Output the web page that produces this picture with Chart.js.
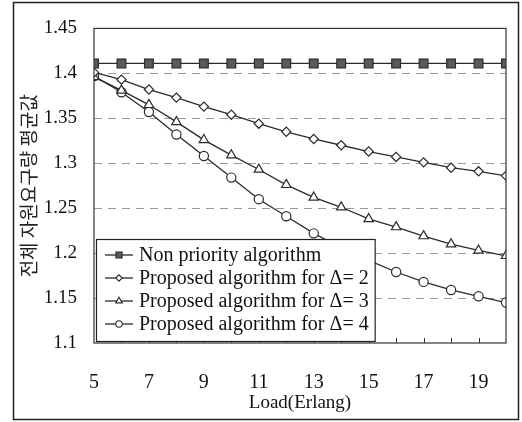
<!DOCTYPE html>
<html>
<head>
<meta charset="utf-8">
<script src="https://cdn.jsdelivr.net/npm/chart.js@4.4.0/dist/chart.umd.min.js"></script>
<style>
  body { margin: 0; background: #fff; }
  #wrap { width: 522px; height: 422px; }
</style>
</head>
<body>
<div id="wrap"><canvas id="mycanvas" width="522" height="422"></canvas></div>
<script>
// data
var loads = [5, 6, 7, 8, 9, 10, 11, 12, 13, 14, 15, 16, 17, 18, 19, 20];
var nonPriority = [1.411, 1.411, 1.411, 1.411, 1.411, 1.411, 1.411, 1.411, 1.411, 1.411, 1.411, 1.411, 1.411, 1.411, 1.411, 1.411];
var delta2 = [1.401, 1.393, 1.382, 1.373, 1.363, 1.354, 1.344, 1.335, 1.327, 1.320, 1.313, 1.307, 1.301, 1.295, 1.291, 1.286];
var delta3 = [1.396, 1.381, 1.365, 1.346, 1.326, 1.309, 1.293, 1.276, 1.262, 1.251, 1.238, 1.229, 1.219, 1.210, 1.203, 1.197];
var delta4 = [1.397, 1.379, 1.357, 1.332, 1.308, 1.284, 1.260, 1.241, 1.222, 1.206, 1.192, 1.179, 1.168, 1.159, 1.152, 1.145];
var xTickLabels = [5, 7, 9, 11, 13, 15, 17, 19];
var yTickLabels = [1.1, 1.15, 1.2, 1.25, 1.3, 1.35, 1.4, 1.45];
var seriesLabels = ['Non priority algorithm', 'Proposed algorithm for \u0394= 2', 'Proposed algorithm for \u0394= 3', 'Proposed algorithm for \u0394= 4'];
var xTitle = 'Load(Erlang)';
var yTitle = '전체 자원요구량 평균값';

var serif = "'Liberation Serif', 'Times New Roman', serif";
var lineCol = '#2b2b2b';

function pts(ys) {
  var out = [];
  for (var i = 0; i < loads.length; i++) out.push({x: loads[i], y: ys[i]});
  return out;
}

function makeSet(label, ys, style, radius, fill) {
  return {
    label: label,
    data: pts(ys),
    borderColor: lineCol,
    borderWidth: 1.3,
    pointStyle: style,
    pointRadius: radius,
    pointBackgroundColor: fill,
    pointBorderColor: lineCol,
    pointBorderWidth: 1.2,
    fill: false,
    tension: 0
  };
}

var chartdata = {
  datasets: [
    makeSet(seriesLabels[0], nonPriority, 'rect', 6.2, '#5a5a5a'),
    makeSet(seriesLabels[1], delta2, 'rectRot', 4.6, '#fff'),
    makeSet(seriesLabels[2], delta3, 'triangle', 5.4, '#fff'),
    makeSet(seriesLabels[3], delta4, 'circle', 4.6, '#fff')
  ]
};

// frame, inner tick marks and the boxed legend inside the plot
var decor = {
  id: 'decor',
  afterDraw: function(chart) {
    var ctx = chart.ctx;
    var a = chart.chartArea;
    var xs = chart.scales.x;
    ctx.save();
    // outer frame
    ctx.strokeStyle = '#222';
    ctx.lineWidth = 1.5;
    ctx.strokeRect(13.5, 2.5, 505, 417);
    // plot box
    ctx.lineWidth = 1.2;
    ctx.strokeStyle = '#333';
    ctx.strokeRect(a.left, a.top, a.right - a.left, a.bottom - a.top);
    // small inward ticks on the x axis
    ctx.lineWidth = 1;
    for (var v = xs.min + 1; v < xs.max; v++) {
      var px = Math.round(xs.getPixelForValue(v)) + 0.5;
      ctx.beginPath();
      ctx.moveTo(px, a.bottom);
      ctx.lineTo(px, a.bottom - 5);
      ctx.stroke();
    }

    // legend
    ctx.font = '20px ' + serif;
    var w = 0;
    for (var i = 0; i < seriesLabels.length; i++) {
      w = Math.max(w, ctx.measureText(seriesLabels[i]).width);
    }
    var rowH = 23;
    var bx = a.left + 2, by = a.bottom - 104;
    var bw = 43 + w + 6, bh = 102;
    ctx.fillStyle = '#fff';
    ctx.fillRect(bx, by, bw, bh);
    ctx.strokeStyle = '#222';
    ctx.lineWidth = 1.2;
    ctx.strokeRect(bx + 0.5, by + 0.5, bw, bh);
    ctx.textBaseline = 'middle';
    ctx.textAlign = 'left';
    for (var i = 0; i < chart.data.datasets.length; i++) {
      var ds = chart.data.datasets[i];
      var cy = by + 16 + i * rowH;
      ctx.strokeStyle = lineCol;
      ctx.lineWidth = 1.3;
      ctx.beginPath();
      ctx.moveTo(bx + 9, cy);
      ctx.lineTo(bx + 37, cy);
      ctx.stroke();
      ctx.fillStyle = ds.pointBackgroundColor;
      ctx.lineWidth = 1.1;
      Chart.helpers.drawPoint(ctx, {pointStyle: ds.pointStyle, rotation: 0, borderWidth: 1.1, radius: ds.pointRadius * 0.7}, bx + 23, cy);
      ctx.fillStyle = '#111';
      ctx.fillText(ds.label, bx + 43, cy + 1);
    }
    ctx.restore();
  }
};

var ctx = document.getElementById('mycanvas');
var LineGraph = new Chart(ctx, {
  type: 'line',
  data: chartdata,
  plugins: [decor],
  options: {
    responsive: false,
    animation: false,
    layout: { padding: { left: 0, top: 21, right: 16, bottom: 0 } },
    plugins: { legend: { display: false }, tooltip: { enabled: false } },
    scales: {
      x: {
        type: 'linear',
        min: 5,
        max: 20,
        afterBuildTicks: function(scale) {
          scale.ticks = xTickLabels.map(function(v) { return {value: v}; });
        },
        afterFit: function(scale) { scale.height = 79; },
        grid: { display: false },
        border: { display: false },
        ticks: { color: '#111', font: { family: serif, size: 20 }, padding: 20, maxRotation: 0, autoSkip: false },
        title: { display: true, text: xTitle, color: '#111', font: { family: serif, size: 19 }, padding: { top: 0, bottom: 8 } }
      },
      y: {
        min: 1.1,
        max: 1.45,
        afterBuildTicks: function(scale) {
          scale.ticks = yTickLabels.map(function(v) { return {value: v}; });
        },
        afterFit: function(scale) { scale.width = 94; },
        grid: {
          drawTicks: false,
          color: function(c) {
            var v = c.tick ? c.tick.value : 0;
            return (v > 1.1 && v < 1.45) ? '#9a9a9a' : 'rgba(0,0,0,0)';
          },
          borderDash: [8, 6],
          lineWidth: 1
        },
        border: { display: false, dash: [8, 6] },
        ticks: {
          color: '#111',
          font: { family: serif, size: 19 },
          padding: 17,
          callback: function(v) { return String(Math.round(v * 100) / 100); }
        },
        title: { display: true, text: yTitle, color: '#222', font: { family: "'Noto Sans CJK KR', sans-serif", size: 19 }, padding: { top: 17, bottom: 0 } }
      }
    }
  }
});
</script>
</body>
</html>
